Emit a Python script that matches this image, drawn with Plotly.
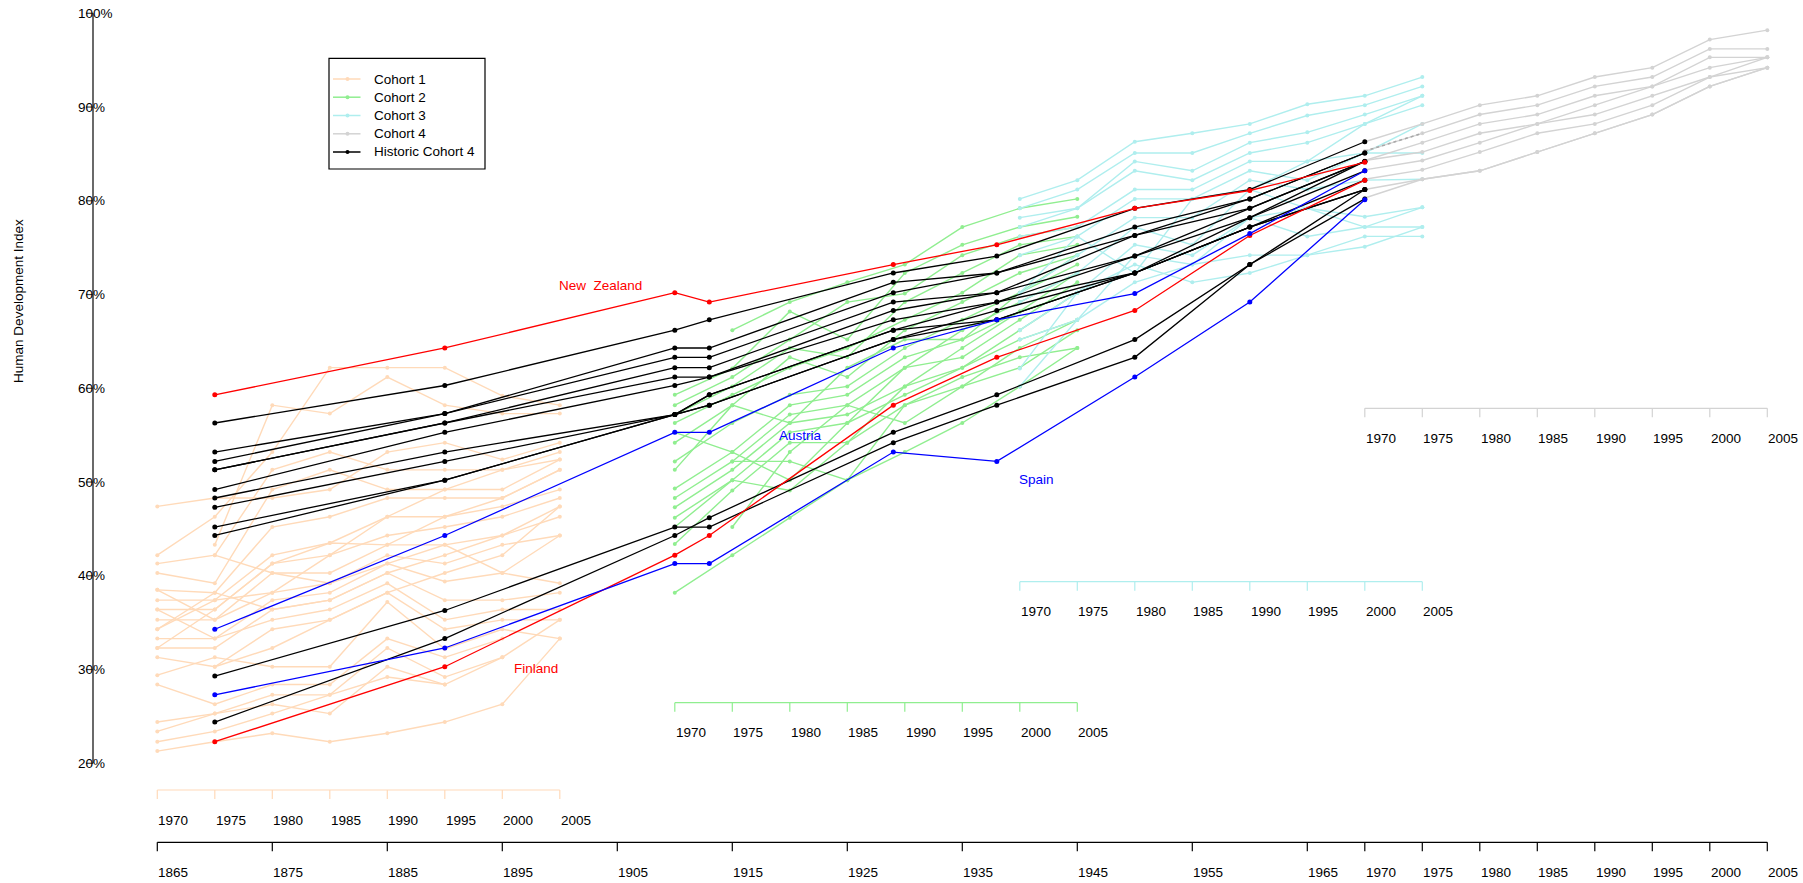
import plotly.graph_objects as go

# ---------------- data ----------------
cohort_years = [1970, 1975, 1980, 1985, 1990, 1995, 2000, 2005]
cohort_offsets = [105, 60, 30, 0]          # shift of each cohort on the common time axis
hist_years = [1870, 1890, 1910, 1913, 1929, 1938, 1950, 1960, 1970]
main_tick_years = [1865, 1875, 1885, 1895, 1905, 1915, 1925, 1935, 1945, 1955,
                   1965, 1970, 1975, 1980, 1985, 1990, 1995, 2000, 2005]
y_ticks = [20, 30, 40, 50, 60, 70, 80, 90, 100]
y_tick_labels = ["20%", "30%", "40%", "50%", "60%", "70%", "80%", "90%", "100%"]

cohort1 = [
    [42.2, 46.3, 53.2, 62.2, 62.2, 62.2, 59.2, 58.2],
    [None, 43.3, 58.2, 57.3, 61.2, 58.2, 57.3, 57.3],
    [47.4, 48.3, 48.3, 49.2, 53.2, 54.2, 52.4, 54.2],
    [41.3, 42.2, 51.3, 53.2, 51.3, 51.3, 51.3, 53.2],
    [40.3, 39.2, 49.2, 51.3, 49.2, 49.2, 49.2, 52.4],
    [38.5, 38.2, 45.2, 46.3, 48.3, 48.3, 48.3, 51.3],
    [37.4, 37.4, 42.2, 43.5, 46.3, 46.3, 47.4, 49.2],
    [36.4, 36.4, 41.3, 42.2, 44.3, 45.2, 46.3, 48.3],
    [35.3, 35.3, 40.3, 40.3, 43.3, 43.3, 44.3, 47.4],
    [34.3, 37.4, 38.2, 39.2, 42.2, 41.3, 43.3, 44.3],
    [33.3, 33.3, 37.4, 38.2, 41.3, 39.4, 40.3, 39.2],
    [32.3, 32.3, 36.4, 37.4, 40.3, 37.4, 37.4, 38.2],
    [36.4, 33.3, 35.3, 36.4, 39.2, 35.3, 36.4, 36.4],
    [31.3, 30.3, 34.3, 35.3, 38.2, 34.3, 35.3, 35.3],
    [29.4, 31.3, 30.3, 30.3, 37.2, 32.2, 34.3, 33.3],
    [28.4, 26.3, 28.4, 28.4, 33.3, 31.3, 33.3, None],
    [24.4, 25.3, 27.3, 27.3, 32.3, 29.2, 31.3, None],
    [23.4, 25.3, 26.3, 25.3, 30.3, 28.4, None, None],
    [22.3, 23.4, 25.3, 27.3, 29.2, 28.4, 31.3, 35.3],
    [21.3, 22.3, 23.2, 22.3, 23.2, 24.4, 26.3, 33.3],
    [34.3, 38.2, 36.4, 37.4, 40.3, 42.2, 44.3, 46.3],
    [None, 42.2, 40.3, 39.2, 41.3, 43.3, 40.3, 44.3],
    [38.5, 35.3, 38.2, 42.2, 46.3, 49.2, 51.3, 52.4],
    [32.3, 36.4, 41.3, 43.5, 43.3, 46.3, 48.3, 51.3],
    [None, 30.3, 32.3, 35.3, 38.2, 40.3, 42.2, 47.4],
]

cohort2 = [
    [None, 66.2, 69.2, 71.3, 73.2, 77.2, 79.2, 80.2],
    [59.3, 62.1, 68.2, 65.2, 72.3, 75.3, 77.2, 78.3],
    [58.2, 61.2, 65.2, 69.2, 70.1, 74.2, 76.2, 77.2],
    [57.2, 60.2, 64.3, 63.3, 69.2, 72.3, 75.3, 76.2],
    [56.3, 59.3, 62.2, 64.3, 67.3, 70.2, 74.2, 75.3],
    [54.2, 58.2, 63.3, 61.2, 66.2, 69.2, 72.3, 74.2],
    [52.2, 56.3, 59.3, 60.2, 64.3, 67.3, 70.2, 73.2],
    [49.3, 53.2, 58.2, 59.3, 63.3, 65.2, 68.2, 72.3],
    [48.3, 52.2, 57.2, 58.2, 62.2, 63.3, 67.3, 71.3],
    [47.3, 51.3, 56.3, 57.2, 60.2, 62.2, 65.2, 67.3],
    [46.2, 50.2, 55.3, 56.3, 59.3, 62.2, 66.2, 70.2],
    [43.4, 49.1, 54.2, 54.2, 58.2, 61.2, 63.3, 64.3],
    [None, 45.2, 53.2, 58.2, 56.3, 60.2, 62.2, 66.2],
    [None, 52.2, 52.2, 50.2, 58.2, 60.2, 64.3, 67.3],
    [38.2, 42.2, 46.2, 50.2, 53.2, 56.3, 60.2, 64.3],
    [55.3, 53.2, 50.2, 56.3, 62.2, 66.2, 69.2, 72.3],
    [45.2, 50.2, 49.1, 54.2, 60.2, 64.3, 68.2, 70.2],
    [51.3, 58.2, 56.3, 62.2, 65.2, 65.2, 70.2, 74.2],
]

cohort3 = [
    [80.2, 82.2, 86.3, 87.2, 88.2, 90.3, 91.2, 93.2],
    [79.2, 81.2, 85.1, 85.1, 87.2, 89.1, 90.2, 92.2],
    [78.2, 79.2, 84.2, 83.2, 86.2, 87.3, 89.2, 91.2],
    [77.2, 79.2, 83.2, 82.2, 85.1, 86.2, 88.2, 90.2],
    [76.2, 77.2, 81.2, 81.2, 84.2, 84.2, 88.2, 91.2],
    [74.2, 76.2, 80.2, 80.2, 83.2, 82.2, 85.1, 85.1],
    [70.1, 74.2, 78.2, 78.2, 82.2, 81.2, 82.2, 82.3],
    [69.2, 72.3, 77.2, 75.3, 81.2, 79.2, 78.3, 79.3],
    [66.2, 70.2, 75.3, 74.2, 78.2, 76.2, 77.2, 77.2],
    [65.2, 67.3, 74.2, 73.2, 74.2, 74.2, 76.2, 76.2],
    [62.1, 70.2, 73.2, 71.3, 72.3, 74.2, 75.1, 77.2],
    [60.2, 67.3, 71.3, 73.2, 78.2, 79.2, 77.2, 79.3],
    [70.2, 76.2, 72.3, 80.2, 81.2, 84.2, 85.1, 88.2],
]

cohort4 = [
    [86.3, 88.2, 90.2, 91.2, 93.2, 94.2, 97.2, 98.2],
    [85.3, 87.2, 89.2, 90.2, 92.2, 93.2, 96.2, 96.2],
    [84.3, 86.2, 88.2, 89.2, 91.2, 92.2, 95.3, 95.3],
    [84.3, 85.2, 87.2, 88.2, 90.2, 92.2, 94.2, 95.3],
    [83.3, 84.3, 86.2, 88.2, 89.2, 91.2, 93.2, 94.2],
    [82.3, 83.3, 85.2, 87.2, 88.2, 90.2, 93.2, 95.3],
    [81.2, 82.3, 83.2, 85.2, 87.2, 89.2, 92.2, 94.2],
    [80.3, 82.3, 83.2, 85.2, 87.2, 89.2, 92.2, 94.2],
]

historic = [
    [56.3, 60.3, 66.2, 67.3, 72.3, 74.1, 79.2, 81.2, 86.3],
    [53.2, 57.3, 64.3, 64.3, 71.3, 72.3, 77.2, 80.2, 85.1],
    [52.2, 57.3, 63.3, 63.3, 70.2, 72.3, 76.3, 80.2, 85.1],
    [51.3, 56.3, 62.2, 62.2, 69.2, 70.2, 76.3, 79.2, 84.2],
    [51.3, 56.3, 61.2, 61.2, 68.3, 70.2, 74.1, 79.2, 84.2],
    [49.2, 55.3, 60.3, 61.2, 67.3, 69.2, 74.1, 78.2, 84.2],
    [48.3, 53.2, 57.2, 59.3, 66.2, 69.2, 72.3, 78.2, 83.2],
    [47.3, 52.2, 57.2, 58.2, 65.2, 68.3, 72.3, 77.2, 82.2],
    [45.2, 50.2, 57.2, 58.2, 65.2, 67.3, 72.3, 77.2, 81.2],
    [44.3, 50.2, 57.2, 59.3, 66.2, 67.3, 72.3, 77.2, 81.2],
    [29.3, 36.3, 45.2, 45.2, 54.2, 58.2, 63.3, 73.2, 80.2],
    [24.4, 33.3, 44.3, 46.2, 55.3, 59.3, 65.2, 73.2, 81.2],
]

new_zealand = [59.3, 64.3, 70.2, 69.2, 73.2, 75.3, 79.2, 81.1, 84.1]
finland = [22.3, 30.3, 42.2, 44.3, 58.2, 63.3, 68.3, 76.3, 82.2]
austria = [34.3, 44.3, 55.3, 55.3, 64.3, 67.3, 70.1, 76.5, 83.2]
spain = [27.3, 32.3, 41.3, 41.3, 53.2, 52.2, 61.2, 69.2, 80.1]

legend_names = ["Cohort 1", "Cohort 2", "Cohort 3", "Cohort 4", "Historic Cohort 4"]

# ---------------- styling / geometry ----------------
W, H = 1803, 883
PX_PER_YEAR = 11.5
PX_1865 = 157.3
PX_PER_PCT = 9.375
PY_100 = 13.3
x_lo = 1865 - PX_1865 / PX_PER_YEAR
x_hi = x_lo + W / PX_PER_YEAR
y_hi = 100 + PY_100 / PX_PER_PCT
y_lo = y_hi - H / PX_PER_PCT

C_PEACH = "#FFDAB9"
C_GREEN = "#90EE90"
C_CYAN = "#AFEEEE"
C_GRAY = "#D3D3D3"
cohort_colors = [C_PEACH, C_GREEN, C_CYAN, C_GRAY]
FONT = "Liberation Sans, Arial, Helvetica, sans-serif"
FS = 13.5


def px(xp):
    return xp / W


def py(yp):
    return 1 - yp / H


fig = go.Figure()


def add_group(lines, xs, color, width=1.4, msize=4):
    X, Y = [], []
    for ln in lines:
        X += list(xs) + [None]
        Y += list(ln) + [None]
    fig.add_trace(go.Scatter(
        x=X, y=Y, mode="lines+markers", connectgaps=False,
        line=dict(color=color, width=width),
        marker=dict(color=color, size=msize),
        hoverinfo="skip", showlegend=False, cliponaxis=False))


for lines, off, col in zip([cohort1, cohort2, cohort3, cohort4], cohort_offsets, cohort_colors):
    xs = [yr - off for yr in cohort_years]
    add_group(lines, xs, col)

# dotted first segment of one cohort-4 line
fig.add_trace(go.Scatter(
    x=cohort_years[:2], y=cohort4[1][:2], mode="lines",
    line=dict(color="#A8A8A8", width=1.6, dash="dot"),
    hoverinfo="skip", showlegend=False, cliponaxis=False))

add_group(historic, hist_years, "black", width=1.3, msize=5)
add_group([new_zealand, finland], hist_years, "#FF0000", width=1.3, msize=5)
add_group([austria, spain], hist_years, "#0000FF", width=1.3, msize=5)

shapes = []
annotations = []


def hline_x(x0, x1, yp, color, width=1.2):
    shapes.append(dict(type="line", xref="x", yref="paper", x0=x0, x1=x1,
                       y0=py(yp), y1=py(yp), line=dict(color=color, width=width)))


def time_axis(years, positions, yp, color):
    hline_x(positions[0], positions[-1], yp, color)
    for lab, xv in zip(years, positions):
        shapes.append(dict(type="line", xref="x", yref="paper", x0=xv, x1=xv,
                           y0=py(yp), y1=py(yp + 9), line=dict(color=color, width=1.2)))
        annotations.append(dict(xref="x", yref="paper", x=xv, y=py(yp + 30),
                                text=str(lab), showarrow=False, xanchor="left",
                                yanchor="middle", font=dict(family=FONT, size=FS, color="black"),
                                borderpad=0))


# main bottom axis
time_axis(main_tick_years, main_tick_years, 842.3, "black")
# cohort sub-axes
sub_axis_y = [790.0, 702.7, 581.7, 408.3]
for off, col, yp in zip(cohort_offsets, cohort_colors, sub_axis_y):
    time_axis(cohort_years, [yr - off for yr in cohort_years], yp, col)

# y axis
shapes.append(dict(type="line", xref="paper", yref="y", x0=px(93), x1=px(93),
                   y0=y_ticks[0], y1=y_ticks[-1], line=dict(color="#444444", width=1.6)))
for v, lab in zip(y_ticks, y_tick_labels):
    shapes.append(dict(type="line", xref="paper", yref="y", x0=px(86), x1=px(93),
                       y0=v, y1=v, line=dict(color="#444444", width=1.2)))
    annotations.append(dict(xref="paper", yref="y", x=px(76.5), y=v, text=lab,
                            showarrow=False, xanchor="left", yanchor="middle",
                            font=dict(family=FONT, size=FS, color="black"), borderpad=0))

annotations.append(dict(xref="paper", yref="paper", x=px(18.4), y=py(300.5),
                        text="Human Development Index", textangle=-90, showarrow=False,
                        xanchor="center", yanchor="middle",
                        font=dict(family=FONT, size=FS, color="black")))

# country labels
for txt, xp_, yp_, col in [("New\u00a0 Zealand", 600.8, 285, "#FF0000"),
                           ("Austria", 800, 435, "#0000FF"),
                           ("Spain", 1036, 480, "#0000FF"),
                           ("Finland", 535.7, 668.3, "#FF0000")]:
    annotations.append(dict(xref="paper", yref="paper", x=px(xp_), y=py(yp_), text=txt,
                            showarrow=False, xanchor="center", yanchor="middle",
                            font=dict(family=FONT, size=FS, color=col)))

# legend (drawn manually)
shapes.append(dict(type="rect", xref="paper", yref="paper", x0=px(329), x1=px(485),
                   y0=py(58.3), y1=py(169), line=dict(color="black", width=1.2),
                   fillcolor="white"))
legend_colors = cohort_colors + ["black"]
legend_rows = [79, 97.2, 115.5, 133.8, 152]
for name, col, yp in zip(legend_names, legend_colors, legend_rows):
    shapes.append(dict(type="line", xref="paper", yref="paper", x0=px(333), x1=px(360.5),
                       y0=py(yp), y1=py(yp), line=dict(color=col, width=1.5)))
    shapes.append(dict(type="circle", xref="paper", yref="paper", x0=px(345.5), x1=px(349.5),
                       y0=py(yp - 2), y1=py(yp + 2), line=dict(color=col, width=0),
                       fillcolor=col))
    annotations.append(dict(xref="paper", yref="paper", x=px(373), y=py(yp), text=name,
                            showarrow=False, xanchor="left", yanchor="middle",
                            font=dict(family=FONT, size=FS, color="black"), borderpad=0))

fig.update_layout(
    width=W, height=H, autosize=False,
    margin=dict(l=0, r=0, t=0, b=0, pad=0),
    paper_bgcolor="white", plot_bgcolor="white",
    xaxis=dict(range=[x_lo, x_hi], visible=False, fixedrange=True),
    yaxis=dict(range=[y_lo, y_hi], visible=False, fixedrange=True),
    shapes=shapes, annotations=annotations, showlegend=False,
    font=dict(family=FONT, size=FS),
)

fig.write_html("out.html", config={"displayModeBar": False},
               post_script="document.body.style.margin='0';document.body.style.overflow='hidden';")
